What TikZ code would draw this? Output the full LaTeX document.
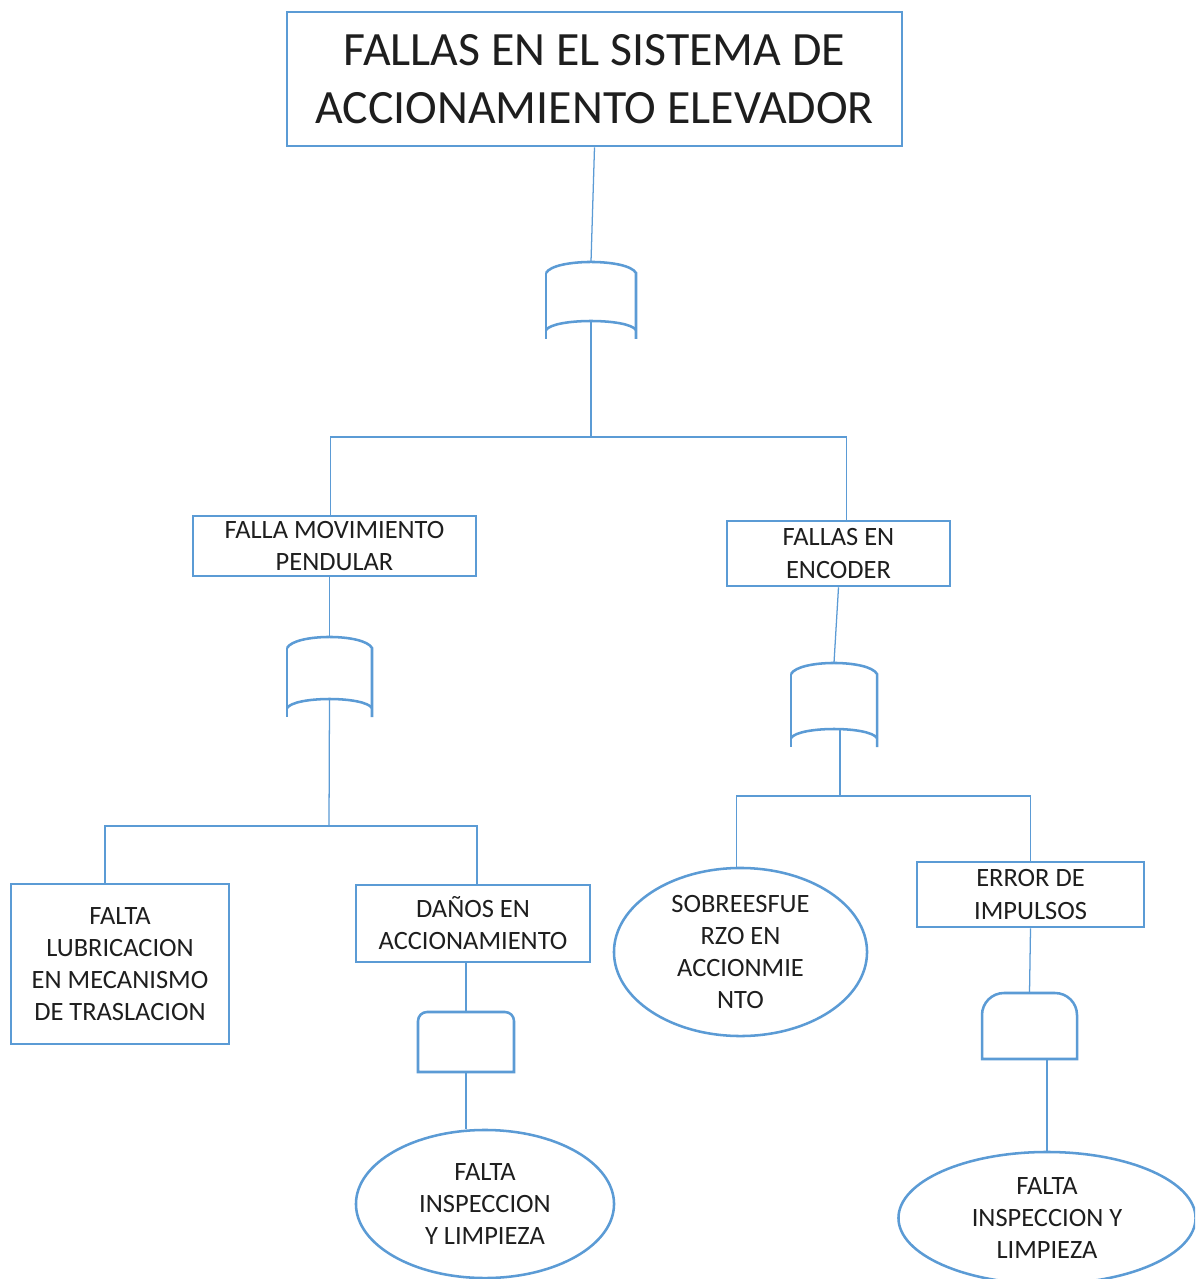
\documentclass[tikz,border=0pt]{standalone}
\usepackage{fontspec}
\setmainfont{Carlito}
\usepackage{xcolor}
\usepackage{tikz}
\usetikzlibrary{shapes.geometric,calc}
\definecolor{ftblue}{RGB}{91,155,213}
\definecolor{fttext}{RGB}{30,30,30}

\newcommand{\orgate}[5]{%
  \node[gatebox, minimum width={#4*0.025cm}, minimum height={#5*0.025cm}] (#1) at ({#2+#4/2},{-#3-#5/2}) {};
  \draw[gateline] (#2,{-#3-11}) .. controls ({#2+8},{-#3+3.7}) and ({#2+#4-8},{-#3+3.7}) .. ({#2+#4},{-#3-11}) -- ({#2+#4},{-#3-#5});
  \draw[gateline] (#2,{-#3-11}) -- (#2,{-#3-#5});
  \draw[gateline] (#2,{-#3-#5+9}) .. controls ({#2+8},{-#3-#5+21}) and ({#2+#4-8},{-#3-#5+21}) .. ({#2+#4},{-#3-#5+9});
  \coordinate (#1-out) at ({#2+#4/2},{-#3-#5+18});
}
\newcommand{\andgate}[6]{%
  \node[gatebox, minimum width={#4*0.025cm}, minimum height={#5*0.025cm}] (#1) at ({#2+#4/2},{-#3-#5/2}) {};
  \draw[gateline] (#2,{-#3-#5}) -- (#2,{-#3-#6}) arc[start angle=180, end angle=90, radius=#6]
    -- ({#2+#4-#6},-#3) arc[start angle=90, end angle=0, radius=#6] -- ({#2+#4},{-#3-#5}) -- cycle;
}

\begin{document}
\begin{tikzpicture}[
    x=0.025cm, y=0.025cm,
    box/.style={rectangle, draw=ftblue, line width=1.8pt, align=center, inner sep=0pt,
                text=fttext, font=\fontsize{18.8pt}{22.8pt}\selectfont},
    event/.style={ellipse, draw=ftblue, line width=1.8pt, align=center, inner sep=0pt,
                text=fttext, font=\fontsize{18.8pt}{22.8pt}\selectfont},
    gatebox/.style={rectangle, inner sep=0pt},
    gateline/.style={draw=ftblue, line width=1.8pt},
    line/.style={draw=ftblue, line width=0.9pt}
  ]
    \clip (0,0) rectangle (1195,-1279);
    \fill[white] (0,0) rectangle (1195,-1279);

    \node[box, minimum width=15.375cm, minimum height=3.35cm,
          font=\fontsize{34pt}{41.3pt}\selectfont] (title) at (594.5,-79)
      {FALLAS EN EL SISTEMA DE\\ACCIONAMIENTO ELEVADOR};

    \node[box, minimum width=7.075cm, minimum height=1.5cm] (pendular) at (334.5,-546)
      {FALLA MOVIMIENTO\\PENDULAR};
    \node[box, minimum width=5.575cm, minimum height=1.625cm] (encoder) at (838.5,-553.5)
      {FALLAS EN\\ENCODER};
    \node[box, minimum width=5.45cm, minimum height=4cm] (lubric) at (120,-964)
      {FALTA\\LUBRICACION\\EN MECANISMO\\DE TRASLACION};
    \node[box, minimum width=5.85cm, minimum height=1.925cm] (danos) at (473,-923.5)
      {DAÑOS EN\\ACCIONAMIENTO};
    \node[box, minimum width=5.675cm, minimum height=1.625cm] (impulsos) at (1030.5,-894.5)
      {ERROR DE\\IMPULSOS};

    \node[event, minimum width=6.45cm, minimum height=3.7cm] (inspA) at (485,-1204)
      {FALTA\\INSPECCION\\Y LIMPIEZA};
    \node[event, minimum width=6.325cm, minimum height=4.2cm] (sobre) at (740.5,-952)
      {SOBREESFUE\\RZO EN\\ACCIONMIE\\NTO};
    \node[event, minimum width=7.425cm, minimum height=3.3cm] (inspB) at (1047,-1218)
      {FALTA\\INSPECCION Y\\LIMPIEZA};

    \orgate{gtop}{546}{262}{90}{77}
    \orgate{gpend}{287}{637}{85}{80}
    \orgate{genc}{791}{663}{86}{84}
    \andgate{gdan}{418}{1012}{96}{60}{9}
    \andgate{gimp}{982}{993}{95}{66}{22}

    \coordinate (jtop) at (591,-437);
    \coordinate (jpend) at (329,-826);
    \coordinate (jenc) at (840,-796);

    \draw[line] (title.south) -- (gtop.north);
    \draw[line] (gtop-out) -- (jtop);
    \draw[line] ($(pendular.north)+(-4,0)$) |- (jtop) -| ($(encoder.north)+(8,0)$);
    \draw[line] (pendular.south -| gpend.north) -- (gpend.north);
    \draw[line] (gpend-out) -- (jpend);
    \draw[line] ($(lubric.north)+(-15,0)$) |- (jpend) -| ($(danos.north)+(4,0)$);
    \draw[line] (danos.south -| gdan.north) -- (gdan.north);
    \draw[line] (gdan.south) -- (gdan.south |- inspA.north);
    \draw[line] (encoder.south) -- (genc.north);
    \draw[line] (genc-out -| jenc) -- (jenc);
    \draw[line] ($(sobre.north)+(-4,0)$) |- (jenc) -| (impulsos.north);
    \draw[line] (impulsos.south) -- (gimp.north);
    \draw[line] (gimp.south -| inspB.north) -- (inspB.north);
  \end{tikzpicture}
\end{document}
